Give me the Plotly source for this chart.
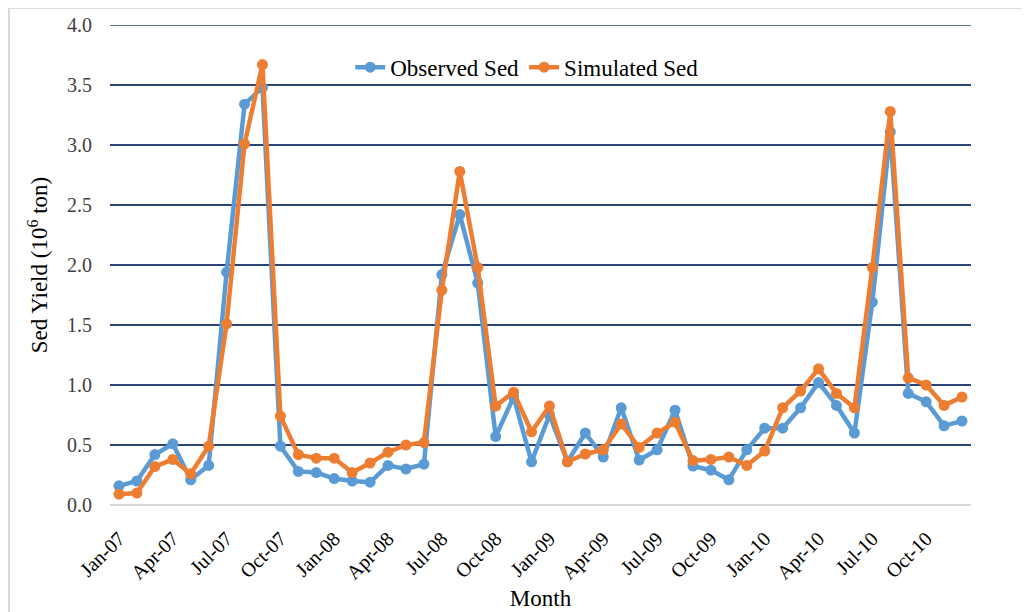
import plotly.graph_objects as go

months = ["Jan", "Feb", "Mar", "Apr", "May", "Jun", "Jul", "Aug", "Sep", "Oct", "Nov", "Dec"]
years = ["07", "08", "09", "10"]
categories = [f"{m}-{y}" for y in years for m in months]

observed = [0.16, 0.20, 0.42, 0.51, 0.21, 0.33, 1.94, 3.34, 3.48, 0.49, 0.28, 0.27,
            0.22, 0.20, 0.19, 0.33, 0.30, 0.34, 1.92, 2.42, 1.85, 0.57, 0.90, 0.36,
            0.75, 0.36, 0.60, 0.40, 0.81, 0.375, 0.46, 0.79, 0.325, 0.29, 0.21, 0.46,
            0.64, 0.64, 0.81, 1.02, 0.83, 0.60, 1.69, 3.11, 0.93, 0.86, 0.66, 0.70]
simulated = [0.09, 0.10, 0.32, 0.38, 0.26, 0.49, 1.51, 3.01, 3.67, 0.74, 0.42, 0.39,
             0.39, 0.27, 0.35, 0.44, 0.50, 0.52, 1.79, 2.78, 1.98, 0.825, 0.94, 0.61,
             0.825, 0.36, 0.425, 0.46, 0.675, 0.48, 0.60, 0.69, 0.37, 0.38, 0.40, 0.33,
             0.45, 0.81, 0.95, 1.135, 0.93, 0.81, 1.98, 3.28, 1.06, 1.00, 0.83, 0.90]
tick_labels = categories[::3]
y_ticks = [0.0, 0.5, 1.0, 1.5, 2.0, 2.5, 3.0, 3.5, 4.0]

FONT = "Liberation Serif"
GRID = "#2A4478"

fig = go.Figure()
fig.add_trace(go.Scatter(
    x=categories, y=observed, name="Observed Sed", mode="lines+markers",
    line=dict(color="#5B9BD5", width=4.5), marker=dict(color="#5B9BD5", size=11),
))
fig.add_trace(go.Scatter(
    x=categories, y=simulated, name="Simulated Sed", mode="lines+markers",
    line=dict(color="#ED7D31", width=4.5), marker=dict(color="#ED7D31", size=11),
))

# page body has an 8px margin; figure is shifted by it
fig.update_layout(
    width=1021, height=604,
    margin=dict(l=102, r=58, t=17, b=107, autoexpand=False),
    paper_bgcolor="white", plot_bgcolor="white",
    font=dict(family=FONT, color="#000000"),
    showlegend=True,
    legend=dict(orientation="h", x=0.484, y=0.912, xanchor="center", yanchor="middle",
                font=dict(family=FONT, size=23, color="#000000"),
                bgcolor="rgba(255,255,255,0)", tracegroupgap=0),
    xaxis=dict(
        type="category", categoryorder="array", categoryarray=categories,
        range=[-0.5, len(categories) - 0.5], automargin=False,
        tickmode="array", tickvals=tick_labels, ticktext=tick_labels,
        tickangle=-45, tickfont=dict(family=FONT, size=20, color="#000000"),
        showgrid=False, showline=False, ticks="", ticklabelstandoff=17,
        title=dict(text="Month", font=dict(family=FONT, size=23, color="#000000"), standoff=6),
    ),
    yaxis=dict(
        range=[0, 4.0], tickvals=y_ticks, tickformat=".1f", automargin=False,
        tickfont=dict(family=FONT, size=20, color="#404040"),
        showgrid=True, gridcolor=GRID, gridwidth=1.5,
        zeroline=True, zerolinecolor="#D9D9D9", zerolinewidth=1.5,
        showline=False, ticks="", ticklabelstandoff=17,
        title=dict(text="Sed Yield (10<sup>6</sup> ton)", font=dict(family=FONT, size=23, color="#000000"), standoff=12),
    ),
    shapes=[
        dict(type="line", xref="paper", yref="y", x0=0, x1=1, y0=y_ticks[-1], y1=y_ticks[-1],
             line=dict(color=GRID, width=1.5)),
        dict(type="line", xref="paper", yref="paper", x0=-102 / 861, x1=1.2,
             y0=1 + 17 / 480, y1=1 + 17 / 480, line=dict(color="#D9D9D9", width=2)),
        dict(type="line", xref="paper", yref="paper", x0=-101 / 861, x1=-101 / 861,
             y0=1 + 17 / 480, y1=-0.3, line=dict(color="#D9D9D9", width=2)),
    ],
)

fig.write_html("out.html")
